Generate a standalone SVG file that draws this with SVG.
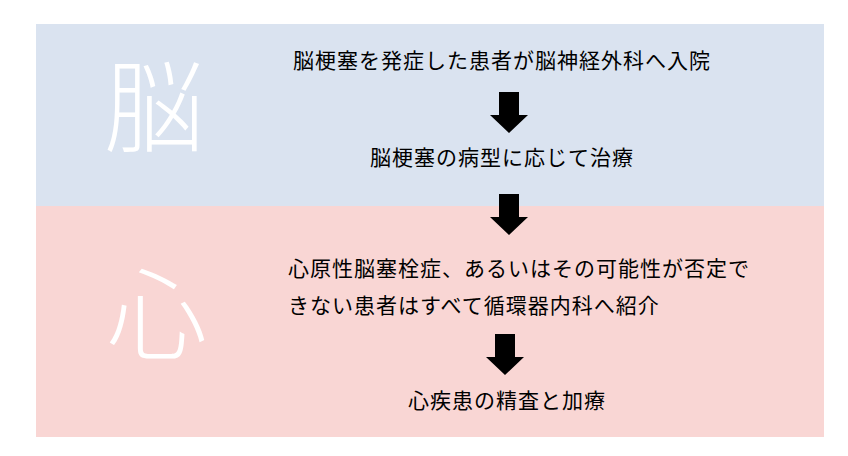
<svg xmlns="http://www.w3.org/2000/svg" width="848" height="456" viewBox="0 0 848 456">
<style>
.t{font-family:"Noto Sans CJK JP","Noto Sans CJK SC",sans-serif;font-size:21px;letter-spacing:1px;fill:#000}
.big{font-family:"Noto Sans CJK JP","Noto Sans CJK SC",sans-serif;font-size:100px;font-weight:300;fill:#fff;text-anchor:middle}
.arr{fill:#000}
</style>
<defs>
<path id="arrow" d="M-10 0 H10 V23 H19 L0 41 L-19 23 H-10 Z"/>
</defs>
<rect x="0" y="0" width="848" height="456" fill="#fff"/>
<g id="band-brain"><rect x="36" y="24" width="788" height="182" fill="#DAE3F0"/><text class="big" x="154" y="144">脳</text></g>
<g id="band-heart"><rect x="36" y="206" width="788" height="231" fill="#F9D6D4"/><text class="big" x="157" y="352">心</text></g>
<g id="n1"><text class="t" x="293" y="68">脳梗塞を発症した患者が脳神経外科へ入院</text></g>
<g id="n2"><text class="t" x="370" y="165">脳梗塞の病型に応じて治療</text></g>
<g id="n3"><text class="t" x="288" y="276">心原性脳塞栓症、あるいはその可能性が否定で</text><text class="t" x="288" y="313">きない患者はすべて循環器内科へ紹介</text></g>
<g id="n4"><text class="t" x="408" y="408">心疾患の精査と加療</text></g>
<g id="connectors">
<use href="#arrow" class="arr" x="509" y="92"/>
<use href="#arrow" class="arr" x="509" y="194"/>
<use href="#arrow" class="arr" x="505" y="334"/>
</g>
</svg>
